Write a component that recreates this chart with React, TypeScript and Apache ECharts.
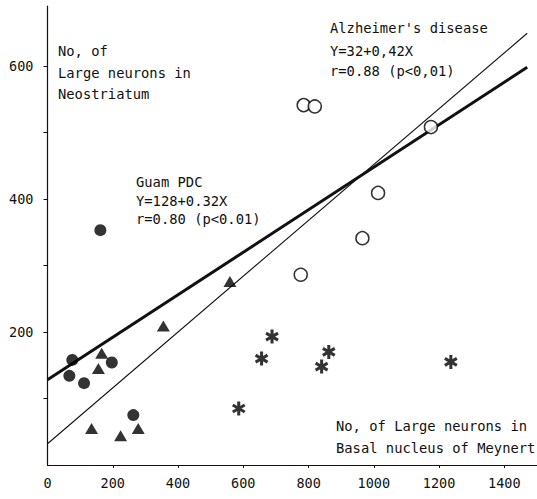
import React, { useEffect, useRef } from "react";
import * as echarts from "echarts";

const xTickLabels = [0, 200, 400, 600, 800, 1000, 1200, 1400];
const yTickLabels = [200, 400, 600];
const yTicks = [100, 200, 300, 400, 500, 600];

const guamPDC: number[][] = [
  [162, 353], [76, 158], [67, 134], [112, 123], [197, 154], [263, 75],
];
const triangles: number[][] = [
  [166, 168], [156, 145], [355, 209], [559, 276], [135, 55], [224, 44], [278, 55],
];
const asterisks: number[][] = [
  [586, 85], [656, 160], [688, 193], [840, 148], [862, 170], [1236, 155],
];
const alzheimer: number[][] = [
  [785, 541], [819, 539], [1175, 508], [1013, 409], [965, 341], [776, 286],
];
const guamLine: number[][] = [[0, 128], [1470, 598]];
const alzLine: number[][] = [[0, 32], [1470, 649]];

const FONT = "DejaVu Sans Mono";
const ASTERISK =
  "path://M1.1 5 L-1.1 5 L-1.1 -5 L1.1 -5 Z M-4.88 -1.55 L-3.78 -3.45 L4.88 1.55 L3.78 3.45 Z M-3.78 3.45 L-4.88 1.55 L3.78 -3.45 L4.88 -1.55 Z";

export default function App() {
  const ref = useRef<HTMLDivElement>(null);
  useEffect(() => {
    if (!ref.current) return;
    const chart = echarts.init(ref.current, null, { renderer: "svg" });
    const txt = (text: string, x: number, y: number) => ({
      type: "text",
      x,
      y,
      style: {
        text,
        fill: "#111",
        font: `13.8px "${FONT}"`,
        textVerticalAlign: "middle",
        textAlign: "left",
      },
    });
    chart.setOption({
      animation: false,
      backgroundColor: "#fff",
      grid: { left: 47.5, right: 0, top: 6, bottom: 34 },
      xAxis: {
        type: "value",
        min: 0,
        max: 1500,
        splitLine: { show: false },
        axisLine: { lineStyle: { color: "#111", width: 1.2 } },
        axisTick: {
          show: true,
          length: 3,
          customValues: xTickLabels.slice(1),
          lineStyle: { color: "#111" },
        },
        axisLabel: {
          customValues: xTickLabels,
          formatter: (v: number) => String(v),
          color: "#111",
          fontFamily: FONT,
          fontSize: 13.5,
          margin: 11,
        },
      },
      yAxis: {
        type: "value",
        min: 0,
        max: 690,
        splitLine: { show: false },
        axisLine: { show: true, lineStyle: { color: "#111", width: 1.2 } },
        axisTick: {
          show: true,
          length: 4,
          customValues: yTicks,
          lineStyle: { color: "#111" },
        },
        axisLabel: {
          customValues: yTickLabels,
          formatter: (v: number) => String(v),
          color: "#111",
          fontFamily: FONT,
          fontSize: 13.5,
          margin: 14,
        },
      },
      graphic: [
        txt("No, of", 58, 51),
        txt("Large neurons in", 58, 73),
        txt("Neostriatum", 58, 94),
        txt("Guam PDC", 136, 182),
        txt("Y=128+0.32X", 136, 201),
        txt("r=0.80 (p<0.01)", 136, 219),
        txt("Alzheimer's disease", 330, 28),
        txt("Y=32+0,42X", 330, 51),
        txt("r=0.88 (p<0,01)", 330, 71),
        txt("No, of Large neurons in", 336, 426),
        txt("Basal nucleus of Meynert", 336, 448),
      ],
      series: [
        {
          type: "line",
          data: guamLine,
          symbol: "none",
          lineStyle: { color: "#111", width: 3 },
          z: 1,
        },
        {
          type: "line",
          data: alzLine,
          symbol: "none",
          lineStyle: { color: "#111", width: 1.1 },
          z: 1,
        },
        {
          type: "scatter",
          data: guamPDC,
          symbol: "circle",
          symbolSize: 12,
          itemStyle: { color: "#000" },
          z: 3,
        },
        {
          type: "scatter",
          data: triangles,
          symbol: "triangle",
          symbolSize: [13, 11],
          itemStyle: { color: "#000" },
          z: 3,
        },
        {
          type: "scatter",
          data: asterisks,
          symbol: ASTERISK,
          symbolSize: [13.5, 14],
          itemStyle: { color: "#000" },
          z: 3,
        },
        {
          type: "scatter",
          data: alzheimer,
          symbol: "circle",
          symbolSize: 13,
          itemStyle: { color: "#fff", borderColor: "#000", borderWidth: 1.5 },
          z: 3,
        },
      ],
    });
    return () => chart.dispose();
  }, []);
  return (
    <div
      ref={ref}
      style={{
        position: "absolute",
        left: 0,
        top: 0,
        width: 537,
        height: 499,
        background: "#fff",
      }}
    />
  );
}
